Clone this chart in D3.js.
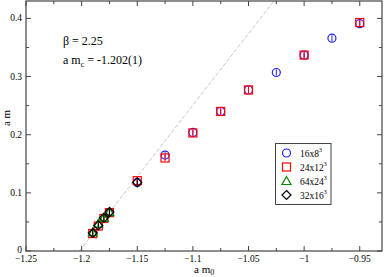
<!DOCTYPE html>
<html>
<head>
<meta charset="utf-8">
<script src="https://cdn.jsdelivr.net/npm/d3@7"></script>
<style>
  body { margin: 0; background: #fff; }
  text { font-family: "Liberation Serif", "DejaVu Serif", serif; }
</style>
</head>
<body>
<div id="chart"></div>
<script>
// data
var m16x = [-1.175, -1.15, -1.125, -1.1, -1.075, -1.05, -1.025, -1.0, -0.975, -0.95];
var m16y = [0.066, 0.118, 0.165, 0.204, 0.240, 0.277, 0.307, 0.337, 0.366, 0.391];
var m24x = [-1.19, -1.185, -1.18, -1.175, -1.15, -1.125, -1.1, -1.075, -1.05, -1.0, -0.95];
var m24y = [0.030, 0.043, 0.056, 0.066, 0.121, 0.160, 0.203, 0.240, 0.277, 0.337, 0.393];
var m64x = [-1.19, -1.185, -1.18, -1.175];
var m64y = [0.032, 0.047, 0.057, 0.067];
var m32x = [-1.19, -1.185, -1.18, -1.175, -1.15];
var m32y = [0.031, 0.044, 0.057, 0.067, 0.118];
var xTicks = [-1.25, -1.2, -1.15, -1.1, -1.05, -1, -0.95];
var yTicks = [0, 0.1, 0.2, 0.3, 0.4];
var mc = -1.202, slope = 2.46;

var W = 384, H = 277;
var x = d3.scaleLinear().domain([-1.25, -0.93]).range([26, 382]);
var y = d3.scaleLinear().domain([0, 0.43]).range([251, 1]);

var svg = d3.select("#chart").append("svg").attr("width", W).attr("height", H);

// chiral line
svg.append("line")
  .attr("x1", x(mc)).attr("y1", y(0))
  .attr("x2", x(mc + 0.43 / slope)).attr("y2", y(0.43))
  .attr("stroke", "#c8c8c8").attr("stroke-width", 1)
  .attr("stroke-dasharray", "4,2");

// frame
svg.append("rect").attr("x", 26).attr("y", 1).attr("width", 356).attr("height", 250)
  .attr("fill", "none").attr("stroke", "#444").attr("stroke-width", 1.2);

// ticks (inward, all four sides)
var xMinor = d3.range(-1.25, -0.93, 0.025);
xMinor.forEach(function(v){
  var major = xTicks.some(function(t){ return Math.abs(t - v) < 1e-6; });
  var len = major ? 5 : 3;
  svg.append("line").attr("x1", x(v)).attr("x2", x(v)).attr("y1", 251).attr("y2", 251 - len)
    .attr("stroke", "#444");
  svg.append("line").attr("x1", x(v)).attr("x2", x(v)).attr("y1", 1).attr("y2", 1 + len)
    .attr("stroke", "#444");
});
var yMinor = d3.range(0, 0.43, 0.05);
yMinor.forEach(function(v){
  var major = yTicks.some(function(t){ return Math.abs(t - v) < 1e-6; });
  var len = major ? 5 : 3;
  svg.append("line").attr("y1", y(v)).attr("y2", y(v)).attr("x1", 26).attr("x2", 26 + len)
    .attr("stroke", "#444");
  svg.append("line").attr("y1", y(v)).attr("y2", y(v)).attr("x1", 382).attr("x2", 382 - len)
    .attr("stroke", "#444");
});

svg.selectAll(".xl").data(xTicks).enter().append("text")
  .attr("x", function(d){ return x(d); }).attr("y", 262)
  .attr("text-anchor", "middle").attr("font-size", 9.5)
  .text(function(d){ return d3.format("")(d); });
svg.selectAll(".yl").data(yTicks).enter().append("text")
  .attr("x", 22).attr("y", function(d){ return y(d) + (d === 0 ? 2 : 3); })
  .attr("text-anchor", "end").attr("font-size", 9.5)
  .text(function(d){ return d; });

// axis titles
var xt = svg.append("text").attr("x", 194).attr("y", 273).attr("font-size", 11);
xt.append("tspan").text("a m");
xt.append("tspan").attr("font-size", 8).attr("dy", 2).text("0");
svg.append("text").attr("transform", "translate(10,118) rotate(-90)")
  .attr("text-anchor", "middle").attr("font-size", 11).text("a m");

// annotation
svg.append("text").attr("x", 63).attr("y", 45).attr("font-size", 12).text("β = 2.25");
var an = svg.append("text").attr("x", 63).attr("y", 64).attr("font-size", 12);
an.append("tspan").text("a m");
an.append("tspan").attr("font-size", 8).attr("dy", 3).text("c");
an.append("tspan").attr("dy", -3).text(" = -1.202(1)");

// markers
function sym(g, type, color, px, py){
  if (type === "circle") {
    g.append("circle").attr("cx", px).attr("cy", py).attr("r", 4)
      .attr("fill", "none").attr("stroke", color).attr("stroke-width", 1.2);
  } else if (type === "square") {
    g.append("rect").attr("x", px - 4).attr("y", py - 4).attr("width", 8).attr("height", 8)
      .attr("fill", "none").attr("stroke", color).attr("stroke-width", 1.2);
  } else if (type === "triangle") {
    g.append("path").attr("d", "M" + px + "," + (py - 4.5) + "L" + (px + 4.5) + "," + (py + 3.5) + "L" + (px - 4.5) + "," + (py + 3.5) + "Z")
      .attr("fill", "none").attr("stroke", color).attr("stroke-width", 1.2);
  } else {
    g.append("path").attr("d", "M" + px + "," + (py - 4.5) + "L" + (px + 4.5) + "," + py + "L" + px + "," + (py + 4.5) + "L" + (px - 4.5) + "," + py + "Z")
      .attr("fill", "none").attr("stroke", color).attr("stroke-width", 1.2);
  }
}
var series = [
  { name: "16x8", exp: "3", xs: m16x, ys: m16y, type: "circle", color: "#1f1fff" },
  { name: "24x12", exp: "3", xs: m24x, ys: m24y, type: "square", color: "#ff0000" },
  { name: "64x24", exp: "3", xs: m64x, ys: m64y, type: "triangle", color: "#008a00" },
  { name: "32x16", exp: "3", xs: m32x, ys: m32y, type: "diamond", color: "#000000" }
];
series.forEach(function(s){
  var g = svg.append("g");
  s.xs.forEach(function(xv, i){
    var px = x(xv), py = y(s.ys[i]);
    sym(g, s.type, s.color, px, py);
    g.append("line").attr("x1", px).attr("x2", px).attr("y1", py - 3).attr("y2", py + 3)
      .attr("stroke", s.color).attr("stroke-width", 1);
  });
});

// legend
var lg = svg.append("g");
lg.append("rect").attr("x", 275.5).attr("y", 143.5).attr("width", 55.5).attr("height", 61)
  .attr("fill", "#fff").attr("stroke", "#444").attr("stroke-width", 1);
series.forEach(function(s, i){
  var ly = 153 + i * 14;
  sym(lg, s.type, s.color, 286.5, ly);
  var t = lg.append("text").attr("x", 300).attr("y", ly + 4).attr("font-size", 9.5);
  t.append("tspan").text(s.name);
  t.append("tspan").attr("font-size", 6).attr("dy", -5).text(s.exp);
});
</script>
</body>
</html>
